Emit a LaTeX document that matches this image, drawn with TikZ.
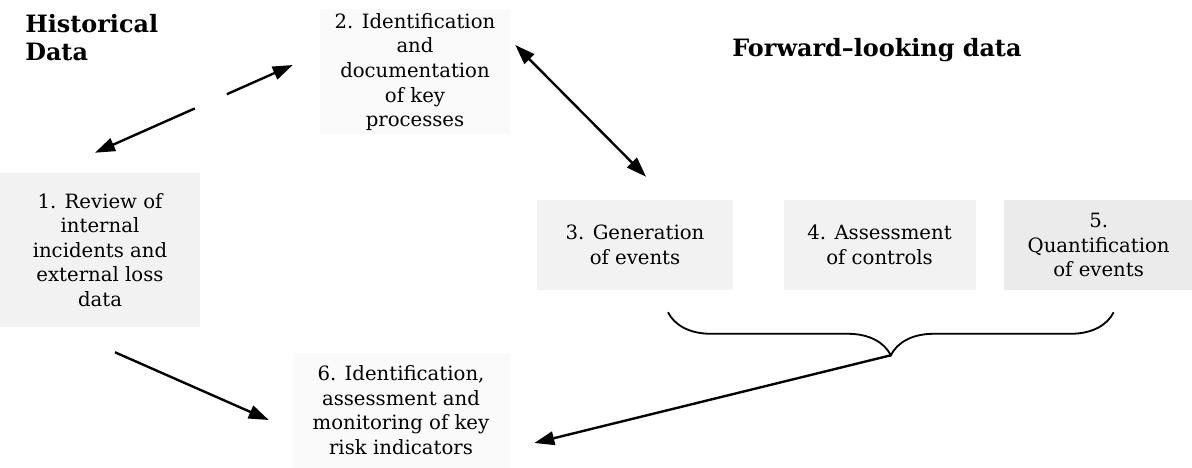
\documentclass[tikz,border=0pt]{standalone}
\usepackage{fontspec}
\setmainfont{DejaVu Serif}
\usetikzlibrary{positioning,calc,arrows.meta,decorations.pathreplacing}
\tikzset{
  stage/.style   = {align=center, inner sep=0pt, fill=black!5,
                    font=\fontsize{14}{17.5}\selectfont},
  faint/.style   = {fill=black!2},
  dense/.style   = {fill=black!8},
  heading/.style = {align=left, inner sep=0pt,
                    font=\fontsize{17}{20}\selectfont\bfseries},
  arr/.style     = {line width=1.7pt},
  >={Triangle[length=0.5cm,width=0.34cm]}
}

\begin{document}
\begin{tikzpicture}
    \useasboundingbox (0,0) rectangle (29.8,-11.7);

    % headings
    \node[heading, anchor=north west] (hist) at (0.625,-0.35) {Historical\\Data};
    \node[heading, anchor=base west]  (fwd)  at (18.3,-1.425) {Forward--looking data};

    % steps
    \node[stage, minimum width=5cm, minimum height=3.85cm] (s1) at (2.5,-6.25)
    {1. Review of\\internal\\incidents and\\external loss\\data};
    \node[stage, faint, minimum width=4.75cm, minimum height=3.125cm] (s2) at (10.375,-1.8)
    {2. Identification\\and\\documentation\\of key\\processes};
    \node[stage, minimum width=4.9cm, minimum height=2.25cm] (s3) at (15.875,-6.125)
    {3. Generation\\of events};
    \node[stage, minimum width=4.8cm, minimum height=2.25cm, right=1.25cm of s3] (s4)
    {4. Assessment\\of controls};
    \node[stage, dense, minimum width=4.725cm, minimum height=2.25cm, right=0.7cm of s4] (s5)
    {5.\\Quantification\\of events};
    \node[stage, faint, minimum width=5.425cm, minimum height=2.875cm] (s6) at (10.025,-10.25)
    {6. Identification,\\assessment and\\monitoring of key\\risk indicators};

    % link 1 -- 2 (broken in the middle)
    \coordinate (e1) at ($(s1.north)+(-0.125,0.5)$);
    \coordinate (e2) at ($(s2.west)+(-0.675,0.175)$);
    \draw[arr,->] ($(e1)!0.505!(e2)$) -- (e1);
    \draw[arr,->] ($(e1)!0.667!(e2)$) -- (e2);

    % link 2 -- 3
    \draw[arr,<->] ($(s2.east)+(0.125,0.675)$) -- ($(s3.north)+(0.275,0.575)$);

    % 1 -> 6
    \draw[arr,->] ($(s1.south)+(0.375,-0.625)$) -- ($(s6.west)+(-0.5875,-0.25)$);

    % brace under 3, 4, 5
    \coordinate (bl) at ($(s3.south)+(0.825,-0.55)$);
    \coordinate (br) at ($(s5.south)+(0.375,-0.55)$);
    \draw[line width=1.3pt, decorate, decoration={brace,mirror,amplitude=1.075cm}] (bl) -- (br);
    \coordinate (tip) at ($(bl)!0.5!(br)+(0,-1.075)$);
    \draw[arr,->] (tip) -- ($(s6.east)+(0.6125,-0.825)$);
\end{tikzpicture}
\end{document}
